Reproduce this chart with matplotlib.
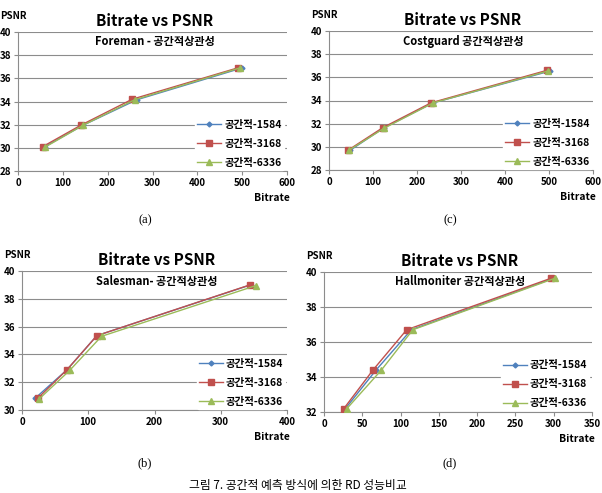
import matplotlib
matplotlib.use("Agg")
import matplotlib.pyplot as plt

plt.rcParams['font.family'] = ['Noto Sans CJK KR', 'DejaVu Sans']

series_names = ["공간적-1584", "공간적-3168", "공간적-6336"]

# (a) Foreman
foreman_x = [[60, 145, 265, 500], [55, 140, 255, 490], [60, 145, 260, 495]]
foreman_y = [[30.1, 31.95, 34.15, 36.9], [30.1, 31.95, 34.2, 36.9], [30.05, 31.95, 34.15, 36.9]]
# (c) Costguard
costguard_x = [[48, 125, 237, 503], [43, 122, 232, 495], [45, 125, 237, 498]]
costguard_y = [[29.7, 31.65, 33.8, 36.55], [29.7, 31.65, 33.8, 36.6], [29.7, 31.6, 33.8, 36.55]]
# (b) Salesman
salesman_x = [[20, 68, 113, 345], [24, 68, 113, 344], [26, 72, 120, 353]]
salesman_y = [[30.85, 32.9, 35.35, 39.0], [30.85, 32.9, 35.35, 39.0], [30.8, 32.85, 35.3, 38.95]]
# (d) Hallmoniter
hall_x = [[28, 68, 114, 300], [26, 64, 108, 297], [30, 75, 116, 302]]
hall_y = [[32.2, 34.4, 36.7, 39.65], [32.2, 34.4, 36.7, 39.65], [32.2, 34.4, 36.7, 39.65]]

colors = ["#4F81BD", "#C0504D", "#9BBB59"]
markers = ["D", "s", "^"]
msizes = [2.5, 4, 4]

W, H = 602, 493
fig = plt.figure(figsize=(W / 100, H / 100), dpi=100)


def px_axes(left, right, top, bottom):
    return fig.add_axes([left / W, 1 - bottom / H, (right - left) / W, (bottom - top) / H])


panels = [
    ((18, 287, 32, 171), foreman_x, foreman_y, (0, 600), 100, (28, 40), "Foreman - 공간적상관성", "(a)", (145, 220)),
    ((329, 593, 31, 170), costguard_x, costguard_y, (0, 600), 100, (28, 40), "Costguard 공간적상관성", "(c)", (450, 220)),
    ((22, 287, 271, 410), salesman_x, salesman_y, (0, 400), 100, (30, 40), "Salesman- 공간적상관성", "(b)", (145, 463)),
    ((324, 592, 272, 412), hall_x, hall_y, (0, 350), 50, (32, 40), "Hallmoniter 공간적상관성", "(d)", (450, 463)),
]

for rect, xs, ys, xlim, xstep, ylim, subtitle, lab, labpos in panels:
    l, r, t, b = rect
    ax = px_axes(l, r, t, b)
    for i in range(3):
        ax.plot(xs[i], ys[i], color=colors[i], marker=markers[i], markersize=msizes[i],
                linewidth=1.0, label=series_names[i], zorder=3)
    ax.set_xlim(*xlim)
    ax.set_ylim(*ylim)
    ax.set_xticks(range(xlim[0], xlim[1] + 1, xstep))
    ax.set_yticks(range(ylim[0], ylim[1] + 1, 2))
    ax.grid(axis='y', color='#8c8c8c', linewidth=0.8)
    ax.set_axisbelow(True)
    for s in ['top', 'right']:
        ax.spines[s].set_visible(False)
    for s in ['left', 'bottom']:
        ax.spines[s].set_color('#8c8c8c')
        ax.spines[s].set_linewidth(0.8)
    ax.tick_params(axis='both', length=3, width=0.8, color='#8c8c8c', labelsize=7, pad=2)
    for tl in ax.get_xticklabels() + ax.get_yticklabels():
        tl.set_fontweight('bold')
    leg = ax.legend(loc='upper left', bbox_to_anchor=(0.64, 0.42), frameon=True,
                    handlelength=2.3, handletextpad=0.3, labelspacing=0.85, borderpad=0.2,
                    prop={'weight': 'bold', 'size': 7.5})
    leg.get_frame().set_facecolor('white')
    leg.get_frame().set_edgecolor('white')
    leg.get_frame().set_alpha(1)

    cx = (l + r) / 2 + 2
    fig.text(cx / W, 1 - (t - 11) / H, "Bitrate vs PSNR", ha='center', va='center',
             fontsize=11, fontweight='bold')
    fig.text(cx / W, 1 - (t + 10) / H, subtitle, ha='center', va='center', fontsize=8,
             fontweight='bold')
    fig.text((l - 18) / W, 1 - (t - 16) / H, "PSNR", ha='left', va='center', fontsize=7,
             fontweight='bold')
    fig.text((r + 3) / W, 1 - (b + 27) / H, "Bitrate", ha='right', va='center', fontsize=7.5,
             fontweight='bold')
    fig.text(labpos[0] / W, 1 - labpos[1] / H, lab, ha='center', va='center', fontsize=9,
             family=['Liberation Serif', 'DejaVu Serif'])

fig.text(298 / W, 1 - 492 / H, "그림 7. 공간적 예측 방식에 의한 RD 성능비교", ha='center', va='bottom',
         fontsize=8.5)

fig.savefig("out.png", dpi=100)
